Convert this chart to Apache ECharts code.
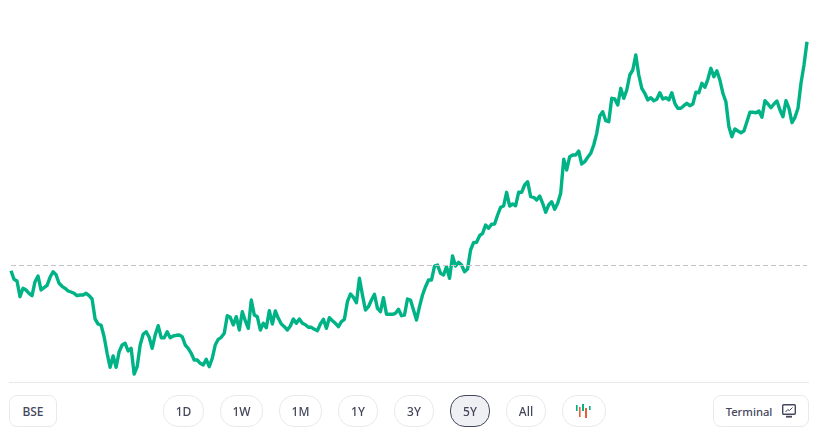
<!DOCTYPE html>
<html>
<head>
<meta charset="utf-8">
<script src="https://cdn.jsdelivr.net/npm/echarts@6/dist/echarts.min.js"></script>
<style>
  html, body { margin: 0; padding: 0; background: #fff; }
  #page { position: relative; width: 825px; height: 440px; overflow: hidden; font-family: "Noto Sans", sans-serif; }
  #chart { position: absolute; left: 0; top: 0; width: 825px; height: 400px; }
  .rule { position: absolute; left: 9px; top: 382px; width: 800px; height: 1px; background: #e9e9eb; }
  .btn {
    position: absolute; top: 395px; height: 32px; box-sizing: border-box;
    border: 1px solid #e9e9eb; border-radius: 15px; background: #fff; color: #44475b;
    font-size: 12px; font-weight: 500; display: flex; align-items: center; justify-content: center;
  }
  .btn.square { border-radius: 8px; }
  .btn.active { background: #eff0f4; border-color: #44475b; }
  .btn svg { display: block; }
</style>
</head>
<body>
<div id="page">
  <div id="chart"></div>
  <div class="rule"></div>
  <div id="buttons"></div>
</div>
<script>
// weekly closes, 5Y
const closes = [
  129.3, 120.7, 119, 103.3, 111.7, 110, 106.7, 104.3, 118.3, 124,
  110, 112.3, 114.7, 122.7, 128.3, 125.3, 116.7, 113.7, 111.7, 109,
  108, 106.7, 104.3, 105, 105, 106.7, 104.3, 101, 81, 76,
  74.7, 63.3, 46.7, 32.7, 44, 32.7, 48.3, 55, 56.7, 49,
  51.7, 26, 33.3, 55, 65.7, 68.3, 62.7, 51.7, 65, 74.3,
  62.3, 62.3, 68.3, 62.3, 64, 64.7, 65, 63.3, 55, 51.7,
  46.7, 40, 40, 36.7, 35, 40.7, 33.3, 41.7, 55, 60.7,
  62.7, 66.7, 84.3, 82.7, 75, 83.3, 70, 88.3, 79.3, 71.7,
  100, 85, 83.3, 70, 76.7, 72.3, 89.3, 76, 89, 81.7,
  76, 73.3, 70, 74, 81, 76.7, 81, 76.7, 75.3, 72.7,
  72.7, 70.7, 69.3, 76, 80.7, 71.7, 82.3, 79.3, 76.7, 73.3,
  78.3, 80.7, 98.3, 106, 102.7, 97.3, 121.7, 105, 90, 93.3,
  100, 105.7, 91.7, 88.3, 102.3, 85.7, 85.7, 85.7, 86.7, 90.7,
  84.3, 85, 101, 100, 90, 80, 93.3, 105, 113.3, 120,
  120, 134, 135, 126.7, 125, 133.3, 121.7, 144, 134, 137.7,
  135, 128.3, 131, 150, 157.3, 157.7, 164.3, 166.7, 175, 171.7,
  175.7, 176, 185, 192.7, 194, 207.7, 194, 196, 194.3, 207.7,
  207.7, 215, 218.3, 203.3, 202.7, 200, 204, 196.7, 187.7, 195,
  198.3, 190.7, 196.7, 206.7, 240.7, 230, 243.3, 245, 245, 249,
  236, 238.3, 242.7, 246.7, 255, 266.7, 284, 288.3, 279.3, 278.3,
  301.7, 301, 295, 311.7, 301.7, 310, 325, 330, 345, 325,
  311.7, 306.7, 300, 302.3, 299.3, 300.7, 307.3, 301, 302.3, 300,
  307.3, 296.7, 291.7, 291.7, 294.3, 296.7, 294.3, 296, 307.7, 307.3,
  316.7, 312.7, 320.7, 331.7, 323.3, 329.3, 320, 306.7, 298.3, 273.3,
  263.3, 271, 269, 267.3, 269, 278.3, 287.7, 287.7, 287.3, 289,
  282.7, 299.3, 296, 292.3, 296, 299, 290, 283.3, 299.3, 291.7,
  277.3, 282.7, 291.7, 316.7, 335, 358.3
];
const weeks = closes.map((_, i) => i);
const prevClose = 134.5;

const rangeLabels = ['1D', '1W', '1M', '1Y', '3Y', '5Y', 'All'];
const rangeLefts = [163, 220, 279, 338, 394, 450, 506];
const rangeWidths = [41, 43, 43, 40, 40, 40, 40];
const activeRange = '5Y';

const candleIcon = `<svg width="18" height="16" viewBox="0 0 18 16">
  <g fill="#00b386"><rect x="1" y="2" width="1.6" height="6"/><rect x="7" y="1" width="2" height="7"/><rect x="14" y="3" width="1.6" height="4"/></g>
  <g fill="#eb5b3c"><rect x="4" y="4" width="1.6" height="10"/><rect x="10" y="5" width="2" height="10"/></g>
</svg>`;
const terminalIcon = `<svg width="14" height="14" viewBox="0 0 14 14" fill="none" stroke="#44475b">
  <rect x="0.7" y="0.7" width="12.6" height="9.6" rx="1" stroke-width="1.4"/>
  <path d="M3.5 8 L5.8 5.5 L7.4 6.6 L10.5 3.5" stroke-width="1"/>
  <path d="M4 12.7 H10" stroke-width="1.8"/>
</svg>`;

function addButton(html, left, width, cls) {
  const el = document.createElement('div');
  el.className = 'btn ' + (cls || '');
  el.style.left = left + 'px';
  el.style.width = width + 'px';
  el.innerHTML = html;
  document.getElementById('buttons').appendChild(el);
  return el;
}

addButton('BSE', 9, 48, 'square');
rangeLabels.forEach((label, i) => {
  addButton(label, rangeLefts[i], rangeWidths[i], label === activeRange ? 'active' : '');
});
addButton(candleIcon, 562, 44);
const terminal = addButton('<span style="font-size:11.2px">Terminal</span>' + terminalIcon, 713, 96, 'square');
terminal.style.gap = '10px';

const chart = echarts.init(document.getElementById('chart'));
chart.setOption({
  animation: false,
  grid: {left: 11, right: 18, top: 0, bottom: 0},
  xAxis: {
    type: 'category',
    data: weeks,
    boundaryGap: false,
    show: false
  },
  yAxis: {
    type: 'value',
    min: 0,
    max: 400,
    show: false
  },
  series: [{
    type: 'line',
    data: closes,
    symbol: 'none',
    lineStyle: {color: '#00b386', width: 3.4, join: 'round'},
    markLine: {
      silent: true,
      symbol: 'none',
      label: {show: false},
      lineStyle: {color: '#c4c4c8', type: [5, 3], width: 1},
      data: [{yAxis: prevClose}]
    }
  }]
});
</script>
</body>
</html>
